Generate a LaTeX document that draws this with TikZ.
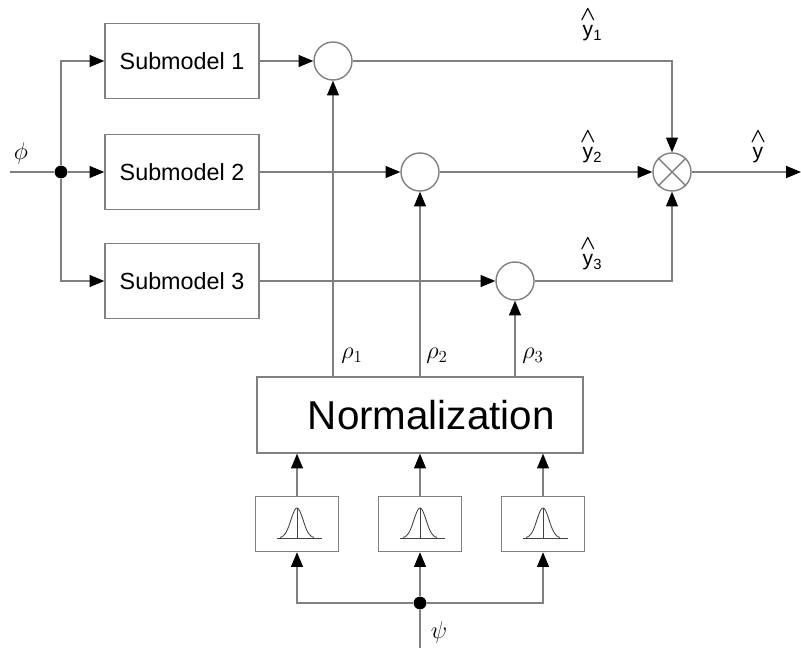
\documentclass[tikz,border=0pt]{standalone}
\usepackage{fontspec}
\usepackage{amsmath}
\usepackage{bm}
\setmainfont{Liberation Sans}
\usetikzlibrary{arrows.meta}
\definecolor{linegray}{gray}{0.5}
\newcommand{\yhat}[1]{\begin{tabular}{@{}c@{}}$\bm{\wedge}$\\[-4pt]y\rlap{\textsubscript{#1}}\end{tabular}}
\tikzset{wire/.style={draw=linegray,line width=1pt}}
\tikzset{blk/.style={draw=linegray,line width=1pt,rectangle,inner sep=0pt,minimum width=3.85cm,minimum height=1.875cm,font=\fontsize{16.6}{20}\selectfont}}
\tikzset{gbox/.style={draw=linegray,line width=1pt,rectangle,inner sep=0pt,minimum width=2.075cm,minimum height=1.375cm}}
\tikzset{sum/.style={draw=linegray,line width=1pt,circle,inner sep=0pt,minimum size=0.95cm}}
\tikzset{dot/.style={fill=black,circle,inner sep=0pt,minimum size=0.32cm}}
\tikzset{lbl/.style={inner sep=0pt,font=\fontsize{15}{16}\selectfont}}
\tikzset{glbl/.style={inner sep=0pt,font=\fontsize{17}{18}\selectfont}}
\tikzset{bell/.style={draw=black!75,line width=0.6pt}}
\tikzset{>={Triangle[length=10.5pt,width=8.5pt,color=black]}}

\begin{document}
\begin{tikzpicture}[x=0.025cm,y=-0.025cm]
\useasboundingbox (0,0) rectangle (801,648);

% submodels and weighting
\node[blk] (sub1) at (182,61) {Submodel 1};
\node[blk] (sub2) at (182,172) {Submodel 2};
\node[blk] (sub3) at (182,281) {Submodel 3};
\node[sum] (c1) at (333,61) {};
\node[sum] (c2) at (420,172) {};
\node[sum] (c3) at (515,281) {};
\node[sum] (mult) at (672,172) {};
\draw[wire] (mult.north west) -- (mult.south east) (mult.north east) -- (mult.south west);

\node[dot] (split) at (61,172) {};
\coordinate (in) at (10,172);
\coordinate (out) at (801,172);

% normalization and membership functions
\node[blk,minimum width=8.15cm,minimum height=1.9cm,font=\fontsize{28.7}{34}\selectfont] (norm) at (420,415) {\hspace{16pt}Normalization};
\node[gbox] (g1) at (297,524) {};
\node[gbox] (g2) at (420,524) {};
\node[gbox] (g3) at (543,524) {};
\node[dot] (psidot) at (420,603) {};
\coordinate (psiin) at (420,648);

\foreach \g in {g1,g2,g3}{
  \begin{scope}[shift={(\g.center)}]
    \draw[bell] (-20,14) -- (25,14);
    \draw[bell] (0,14) -- (0,-16);
    \draw[bell,domain=-17:17,samples=40,smooth] plot (\x,{14-30*exp(-((\x/8.5)^2))});
  \end{scope}
}

\draw[wire] (in) -- (split);
\draw[wire,->] (split) -- (sub2);
\draw[wire,->] (split) |- (sub1);
\draw[wire,->] (split) |- (sub3);
\draw[wire,->] (sub1) -- (c1);
\draw[wire,->] (sub2) -- (c2);
\draw[wire,->] (sub3) -- (c3);
\draw[wire,->] (c1) -| (mult);
\draw[wire,->] (c2) -- (mult);
\draw[wire,->] (c3) -| (mult);
\draw[wire,->] (mult) -- (out);

\draw[wire,->] (c1 |- norm.north) -- (c1);
\draw[wire,->] (c2 |- norm.north) -- (c2);
\draw[wire,->] (c3 |- norm.north) -- (c3);
\draw[wire,->] (g1) -- (g1 |- norm.south);
\draw[wire,->] (g2) -- (g2 |- norm.south);
\draw[wire,->] (g3) -- (g3 |- norm.south);

\draw[wire] (psiin) -- (psidot);
\draw[wire,->] (psidot) -| (g1);
\draw[wire,->] (psidot) -- (g2);
\draw[wire,->] (psidot) -| (g3);

% labels
\node[glbl] (philbl) at (21,153) {$\phi$};
\node[lbl] (y1lbl) at (588,24) {\yhat{1}};
\node[lbl] (y2lbl) at (588,146) {\yhat{2}};
\node[lbl] (y3lbl) at (588,253) {\yhat{3}};
\node[lbl] (ylbl) at (758,146) {\yhat{}};
\node[glbl] (rho1) at (352,356) {$\rho_1$};
\node[glbl] (rho2) at (437,356) {$\rho_2$};
\node[glbl] (rho3) at (533,356) {$\rho_3$};
\node[glbl] (psilbl) at (439,632) {$\psi$};
\end{tikzpicture}
\end{document}
